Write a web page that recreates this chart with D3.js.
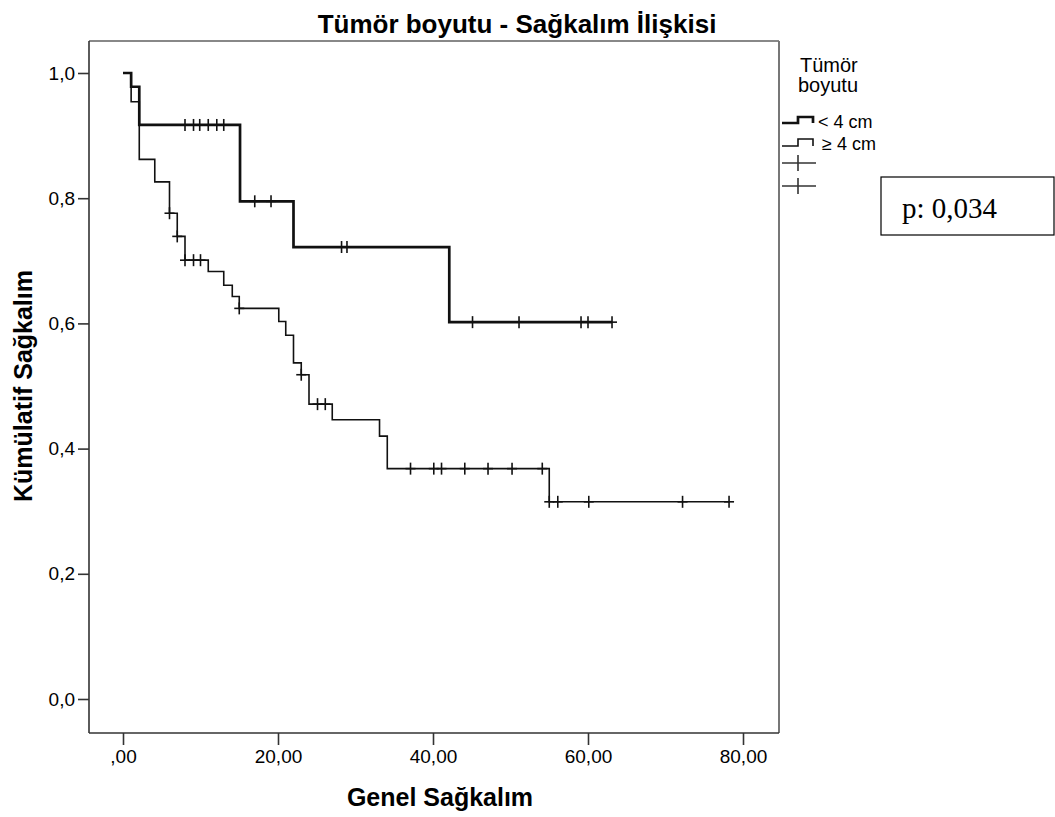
<!DOCTYPE html>
<html>
<head>
<meta charset="utf-8">
<script src="https://cdn.jsdelivr.net/npm/d3@7"></script>
<style>
  body { margin: 0; background: #fff; }
  svg text { font-family: "Liberation Sans", Arial, sans-serif; fill: #000; }
  .tick text { font-size: 19px; }
  .tick line { stroke: #333; stroke-width: 1.6; }
</style>
</head>
<body>
<div id="chart"></div>
<script>
// --- data (time in months, cumulative survival) ---
const groups = ["< 4 cm", "\u2265 4 cm"];

// < 4 cm (thick line)
const smallTimes = [0, 1.05, 2.1, 15.1, 22.0, 42.1];
const smallSurv  = [1.0, 0.978, 0.917, 0.795, 0.722, 0.602];
const smallEnd = 63.1;
const smallCensor = [8.0, 9.1, 9.9, 11.0, 12.1, 13.0, 17.0, 19.1, 28.2, 28.9, 45.1, 51.1, 59.1, 60.0, 63.1];

// >= 4 cm (thin line)
const largeTimes = [0, 1.05, 2.1, 4.1, 6.0, 7.0, 8.0, 11.0, 13.0, 14.1, 15.0, 20.1, 21.0, 22.0, 23.0, 24.0, 27.0, 33.1, 34.1, 55.0];
const largeSurv  = [1.0, 0.954, 0.862, 0.826, 0.776, 0.739, 0.701, 0.683, 0.661, 0.643, 0.624, 0.603, 0.581, 0.537, 0.518, 0.471, 0.446, 0.420, 0.368, 0.315];
const largeEnd = 78.2;
const largeCensor = [6.0, 7.0, 8.0, 9.1, 10.0, 15.0, 23.0, 25.1, 26.1, 37.1, 40.1, 41.1, 44.1, 47.1, 50.2, 54.1, 55.0, 56.1, 60.1, 72.2, 78.2];

const xTicks = [0, 20, 40, 60, 80];
const yTicks = [0, 0.2, 0.4, 0.6, 0.8, 1.0];
const pValue = "p: 0,034";

// --- layout ---
const W = 1055, H = 817;
const frame = {left: 89, top: 41, right: 779, bottom: 733};

const svg = d3.select("#chart")
  .append("svg")
    .attr("width", W)
    .attr("height", H);

const x = d3.scaleLinear().domain([0, 80]).range([123, 743]);
const y = d3.scaleLinear().domain([0, 1]).range([699, 73]);

// frame
svg.append("line").attr("x1", frame.left).attr("x2", frame.right).attr("y1", frame.top).attr("y2", frame.top)
  .attr("stroke", "#888").attr("stroke-width", 2);
svg.append("line").attr("x1", frame.right).attr("x2", frame.right).attr("y1", frame.top).attr("y2", frame.bottom)
  .attr("stroke", "#777").attr("stroke-width", 2);
svg.append("line").attr("x1", frame.left).attr("x2", frame.left).attr("y1", frame.top).attr("y2", frame.bottom)
  .attr("stroke", "#333").attr("stroke-width", 1.6);
svg.append("line").attr("x1", frame.left).attr("x2", frame.right).attr("y1", frame.bottom).attr("y2", frame.bottom)
  .attr("stroke", "#333").attr("stroke-width", 1.6);

// axes
const fmtX = d => { let s = d3.format(".2f")(d).replace(".", ","); return s.startsWith("0,") ? s.slice(1) : s; };
const fmtY = d => d3.format(".1f")(d).replace(".", ",");

svg.append("g")
  .attr("transform", `translate(0,${frame.bottom})`)
  .call(d3.axisBottom(x).tickValues(xTicks).tickFormat(fmtX).tickSize(12).tickPadding(5))
  .call(g => g.select(".domain").remove());

svg.append("g")
  .attr("transform", `translate(${frame.left},0)`)
  .call(d3.axisLeft(y).tickValues(yTicks).tickFormat(fmtY).tickSize(11).tickPadding(3))
  .call(g => g.select(".domain").remove());

// titles
svg.append("text")
  .attr("x", 517).attr("y", 33)
  .attr("text-anchor", "middle")
  .style("font-size", "26px").style("font-weight", "bold")
  .text("Tümör boyutu - Sağkalım İlişkisi");

svg.append("text")
  .attr("x", 440).attr("y", 806)
  .attr("text-anchor", "middle")
  .style("font-size", "25px").style("font-weight", "bold")
  .text("Genel Sağkalım");

svg.append("text")
  .attr("transform", "translate(32,386) rotate(-90)")
  .attr("text-anchor", "middle")
  .style("font-size", "25px").style("font-weight", "bold")
  .text("Kümülatif Sağkalım");

// survival curves
const stepLine = d3.line().x(d => x(d[0])).y(d => y(d[1])).curve(d3.curveStepAfter);

function curvePoints(times, surv, end) {
  const pts = times.map((t, i) => [t, surv[i]]);
  pts.push([end, surv[surv.length - 1]]);
  return pts;
}
function survAt(times, surv, t) {
  return surv[d3.bisectRight(times, t) - 1];
}

const series = [
  {name: groups[0], times: smallTimes, surv: smallSurv, end: smallEnd, censor: smallCensor, width: 2.7},
  {name: groups[1], times: largeTimes, surv: largeSurv, end: largeEnd, censor: largeCensor, width: 1.6}
];

series.forEach(s => {
  svg.append("path")
    .datum(curvePoints(s.times, s.surv, s.end))
    .attr("fill", "none")
    .attr("stroke", "#111")
    .attr("stroke-width", s.width)
    .attr("d", stepLine);

  const marks = svg.append("g").selectAll("g")
    .data(s.censor)
    .join("g")
      .attr("transform", t => `translate(${x(t)},${y(survAt(s.times, s.surv, t))})`);
  marks.append("line").attr("x1", 0).attr("x2", 0).attr("y1", -6).attr("y2", 6)
    .attr("stroke", "#111").attr("stroke-width", 1.6);
  marks.append("line").attr("x1", -5).attr("x2", 5).attr("y1", 0).attr("y2", 0)
    .attr("stroke", "#111").attr("stroke-width", 1.6);
});

// legend
const legend = svg.append("g");
legend.append("text").attr("x", 800).attr("y", 72).style("font-size", "20px").text("Tümör");
legend.append("text").attr("x", 798).attr("y", 92).style("font-size", "20px").text("boyutu");

const legendRows = [
  {label: groups[0], yLow: 123, yHigh: 117, width: 2.7, tx: 818, ty: 128},
  {label: groups[1], yLow: 146, yHigh: 139, width: 1.6, tx: 822, ty: 150}
];
legendRows.forEach(r => {
  legend.append("path")
    .attr("d", `M782,${r.yLow}H798V${r.yHigh}H813V${r.yLow}`)
    .attr("fill", "none").attr("stroke", "#111").attr("stroke-width", r.width);
  legend.append("text").attr("x", r.tx).attr("y", r.ty).style("font-size", "18px").text(r.label);
});
[163, 186].forEach(cy => {
  legend.append("line").attr("x1", 782).attr("x2", 816).attr("y1", cy).attr("y2", cy)
    .attr("stroke", "#333").attr("stroke-width", 1.6);
  legend.append("line").attr("x1", 798).attr("x2", 798).attr("y1", cy - 8).attr("y2", cy + 8)
    .attr("stroke", "#333").attr("stroke-width", 1.6);
});

// p value box
svg.append("rect")
  .attr("x", 881).attr("y", 177).attr("width", 173).attr("height", 58)
  .attr("fill", "#fff").attr("stroke", "#000").attr("stroke-width", 1.2);
svg.append("text")
  .attr("x", 902).attr("y", 218)
  .style("font-family", "'Liberation Serif', 'Times New Roman', serif")
  .style("font-size", "29px")
  .text(pValue);
</script>
</body>
</html>
